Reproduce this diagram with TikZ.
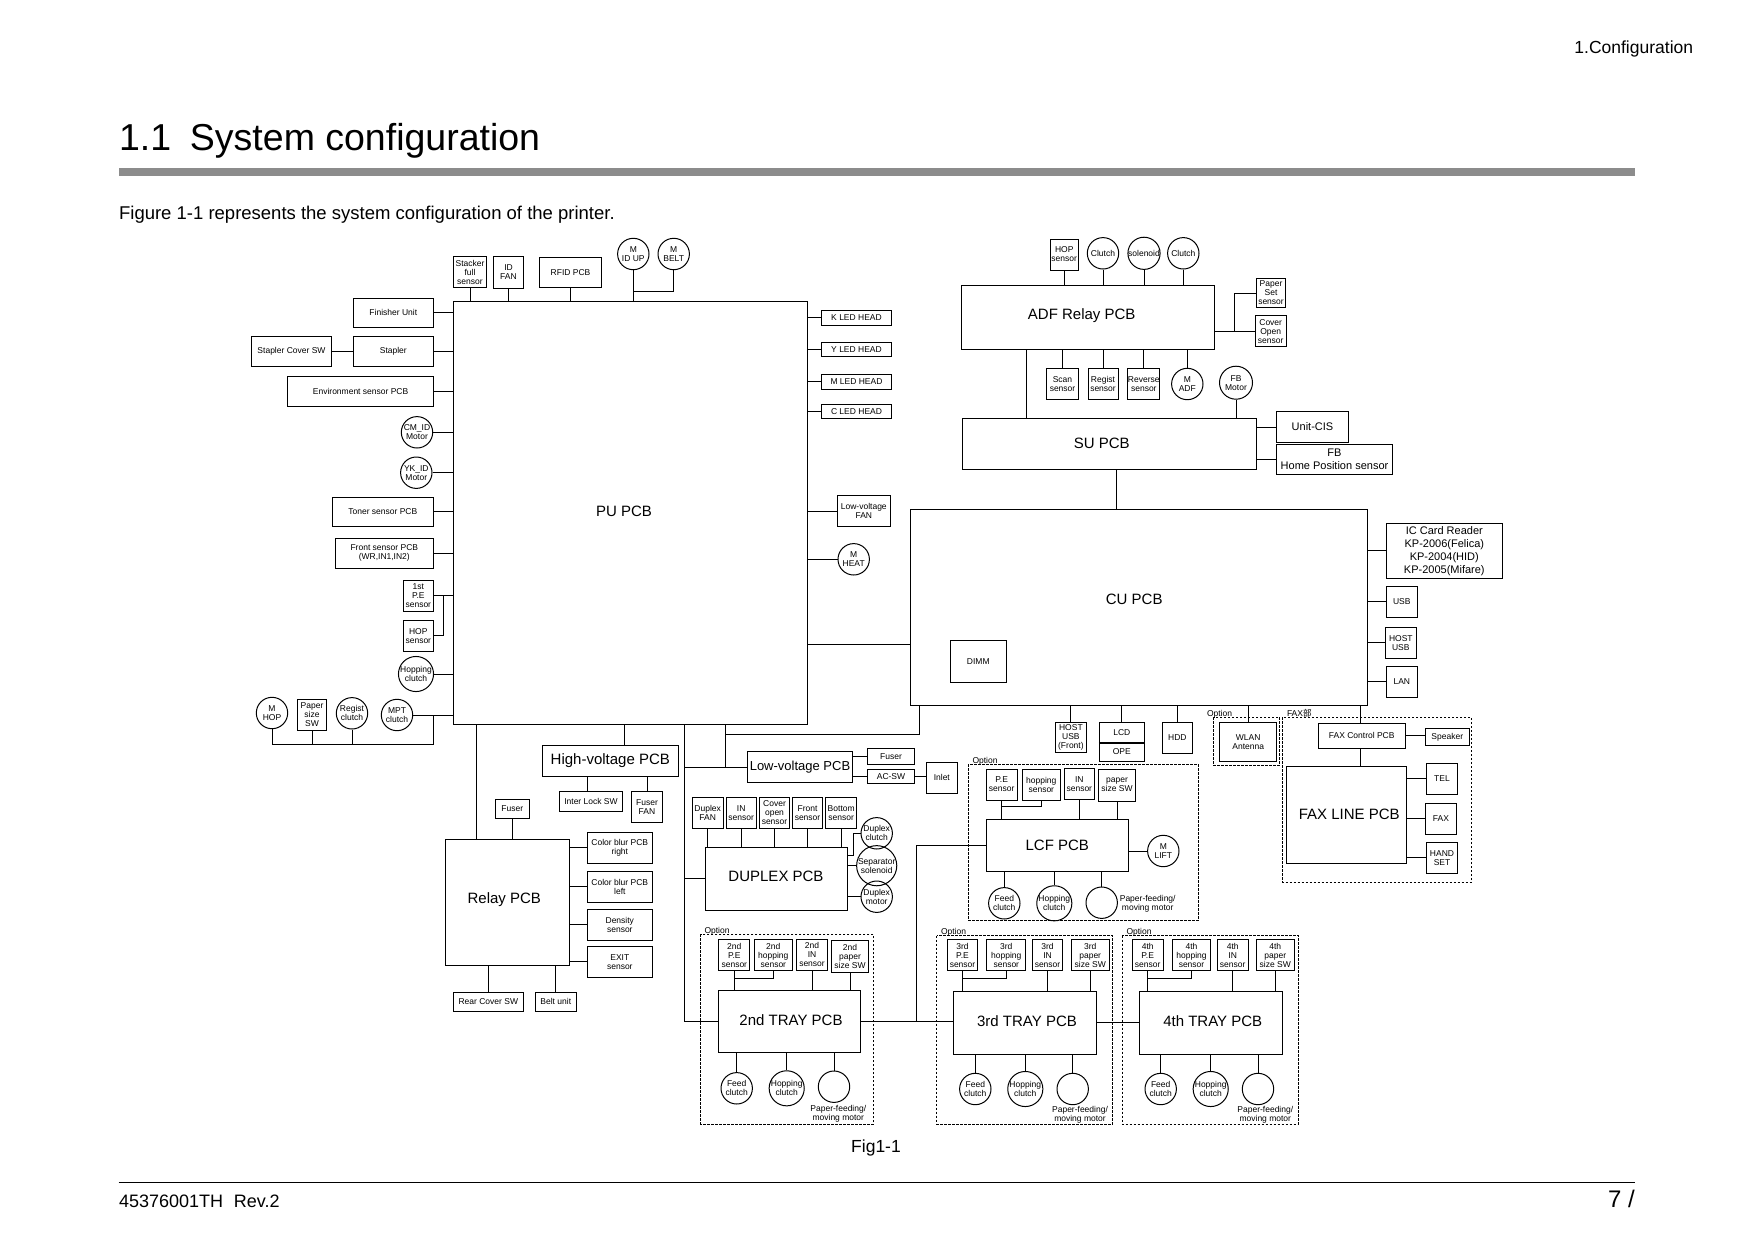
\documentclass[tikz,border=0pt]{standalone}
\usepackage{fontspec}
\setmainfont{Liberation Sans}
\newfontfamily\cjk{Noto Sans CJK JP}
\usetikzlibrary{calc}
\newcommand\fs{\fontsize{8.5}{9}\selectfont}
\newcommand\fm{\fontsize{11}{13}\selectfont}
\newcommand\fl{\fontsize{15}{18}\selectfont}
\begin{document}
\begin{tikzpicture}[x=1pt,y=-1pt,line width=1pt,
 sb/.style={draw,rectangle,inner sep=0pt,align=center,font=\fs},
 cb/.style={draw,circle,inner sep=0pt,align=center,font=\fs,minimum size=31.4pt},
 bb/.style={draw,rectangle,inner sep=0pt,align=center,font=\fl},
 mb/.style={draw,rectangle,inner sep=0pt,align=center,font=\fm},
 bt/.style={font=\fl,inner sep=0pt},
 optbox/.style={draw,dash pattern=on 2.5pt off 1.5pt,line width=0.9pt},
 optlbl/.style={font=\fs,anchor=base west,inner sep=0pt},
 txt/.style={font=\fs,align=center,inner sep=0pt}]
\useasboundingbox (0,0) rectangle (1754,1240);
% ---------- page furniture ----------
\node[anchor=base east,font=\fontsize{17.5}{20}\selectfont,inner sep=0] (hdr) at (1693.6,53.5) {1.Configuration};
\node[anchor=base west,font=\fontsize{37.5}{44}\selectfont,inner sep=0] (title) at (118.6,150.5) {1.1\hspace{0.5em}System configuration};
\fill[black!45] (118.6,167.8) rectangle (1635.4,175.6);
\node[anchor=base west,font=\fontsize{18.5}{22}\selectfont,inner sep=0] (intro) at (118.6,219) {Figure 1-1 represents the system configuration of the printer.};
\node[anchor=base,font=\fontsize{17.5}{20}\selectfont,inner sep=0] (figcap) at (876,1152.5) {Fig1-1};
\draw[line width=0.8pt] (118.6,1182.4) -- (1635.4,1182.4);
\node[anchor=base west,font=\fontsize{18}{20}\selectfont,inner sep=0] (doc) at (118.6,1207) {45376001TH\hspace{0.6em}Rev.2};
\node[anchor=base east,font=\fontsize{24}{26}\selectfont,inner sep=0] (pg) at (1635.4,1207) {7 /};
% ---------- PU PCB ----------
\node[bb,minimum width=354.4pt,minimum height=423pt] (pu) at (630.5,512.5) {};
\node[bt] (putxt) at (624,511.7) {PU PCB};
% top
\node[sb,minimum width=33.4pt,minimum height=30.6pt] (stk) at (470,272) {Stacker\\full\\sensor};
\node[sb,minimum width=30.4pt,minimum height=32pt] (idfan) at (508.5,272.3) {ID\\FAN};
\node[sb,minimum width=62.4pt,minimum height=30pt] (rfid) at (570.5,272.3) {RFID PCB};
\node[cb] (midup) at (633.3,254) {M\\ID UP};
\node[cb] (mbelt) at (673.7,254) {M\\BELT};
\coordinate (jbelt) at (0,291.3);
\foreach \n in {stk,idfan,rfid,midup} \draw (\n.south) -- (\n.south |- pu.north);
\draw (mbelt.south) |- (midup.south |- jbelt);
% left
\node[sb,minimum width=80pt,minimum height=29pt] (fin) at (393.3,312.8) {Finisher Unit};
\node[sb,minimum width=80pt,minimum height=30pt] (stapler) at (393.3,351.3) {Stapler};
\node[sb,minimum width=80.4pt,minimum height=30pt] (stcov) at (291.5,351.3) {Stapler Cover SW};
\node[sb,minimum width=145.3pt,minimum height=30pt] (env) at (360.6,391.3) {Environment sensor PCB};
\node[cb] (cmid) at (417,432.3) {CM\_ID\\Motor};
\node[cb] (ykid) at (416.3,472.7) {YK\_ID\\Motor};
\node[sb,minimum width=101pt,minimum height=29pt] (toner) at (382.8,511.8) {Toner sensor PCB};
\node[sb,minimum width=98pt,minimum height=30pt] (front) at (384.3,553.3) {Front sensor PCB\\(WR,IN1,IN2)};
\node[sb,minimum width=30pt,minimum height=31pt] (pe1) at (418.3,595.8) {1st\\P.E\\sensor};
\node[sb,minimum width=30pt,minimum height=31.3pt] (hops) at (418.3,635.7) {HOP\\sensor};
\node[cb] (hopcl) at (416,674) {Hopping\\clutch};
\node[cb] (mpt) at (397,715) {MPT\\clutch};
\foreach \n in {fin,stapler,env,cmid,ykid,toner,front,pe1,hopcl,mpt} \draw (\n.east) -- (\n.east -| pu.west);
\draw (stcov) -- (stapler);
\coordinate (jh) at (443.3,0);
\draw (hops.east) -| (jh |- pe1.east);
\node[cb] (mhop) at (272,713) {M\\HOP};
\node[sb,minimum width=29.4pt,minimum height=31.4pt] (psw) at (312,715) {Paper\\size\\SW};
\node[cb] (regcl) at (352,713.3) {Regist\\clutch};
\coordinate (jb) at (433.3,744.3);
\draw (mhop.south) |- (jb) -- (jb |- mpt.east);
\draw (psw.south) -- (psw.south |- jb);
\draw (regcl.south) -- (regcl.south |- jb);
% right
\node[sb,minimum width=69.6pt,minimum height=15pt] (khead) at (856.5,317.8) {K LED HEAD};
\node[sb,minimum width=69.6pt,minimum height=14pt] (yhead) at (856.5,349.3) {Y LED HEAD};
\node[sb,minimum width=69.6pt,minimum height=15pt] (mhead) at (856.5,381.8) {M LED HEAD};
\node[sb,minimum width=69.6pt,minimum height=14pt] (chead) at (856.5,411.7) {C LED HEAD};
\node[sb,minimum width=53pt,minimum height=31.3pt] (lvfan) at (863.8,511.3) {Low-voltage\\FAN};
\node[cb] (mheat) at (853.7,559.3) {M\\HEAT};
\foreach \n in {khead,yhead,mhead,chead,lvfan,mheat} \draw (\n.west -| pu.east) -- (\n.west);
% ---------- below PU ----------
\node[bb,minimum width=124pt,minimum height=126.3pt] (relay) at (507.3,902.2) {};
\node[bt] (relaytxt) at (504.3,900) {Relay PCB};
\coordinate (x1) at (476.7,0);
\draw (x1 |- pu.south) -- (x1 |- relay.north);
\node[bb,minimum width=136pt,minimum height=31pt] (hv) at (610.3,760.8) {High-voltage PCB};
\coordinate (x2) at (624.3,0);
\draw (x2 |- pu.south) -- (x2 |- hv.north);
\node[sb,minimum width=63.4pt,minimum height=20pt] (ilsw) at (591,801.3) {Inter Lock SW};
\node[sb,minimum width=31.4pt,minimum height=31pt] (ffan) at (647,806.8) {Fuser\\FAN};
\coordinate (x3) at (587.7,0);
\draw (x3 |- hv.south) -- (x3 |- ilsw.north);
\draw (ffan.north |- hv.south) -- (ffan.north);
\node[sb,minimum width=34pt,minimum height=19pt] (fuser1) at (512.3,808.8) {Fuser};
\draw (fuser1.south) -- (fuser1.south |- relay.north);
\node[sb,minimum width=65pt,minimum height=31pt] (cbr) at (619.8,847.8) {Color blur PCB\\right};
\node[sb,minimum width=65pt,minimum height=31pt] (cbl) at (619.8,886.8) {Color blur PCB\\left};
\node[sb,minimum width=65pt,minimum height=31pt] (dens) at (619.8,924.8) {Density\\sensor};
\node[sb,minimum width=65pt,minimum height=31pt] (exit) at (619.8,961.8) {EXIT\\sensor};
\foreach \n in {cbr,cbl,dens,exit} \draw (\n.west -| relay.east) -- (\n.west);
\node[sb,minimum width=70pt,minimum height=19pt] (rcsw) at (488.3,1001.8) {Rear Cover SW};
\node[sb,minimum width=41pt,minimum height=19pt] (belt) at (555.8,1001.8) {Belt unit};
\draw (rcsw.north |- relay.south) -- (rcsw.north);
\draw (belt.north |- relay.south) -- (belt.north);
% ---------- Low-voltage ----------
\node[bb,font=\fontsize{13}{15}\selectfont,minimum width=104.6pt,minimum height=31.3pt] (lv) at (800,767.3) {Low-voltage PCB};
\node[sb,minimum width=46.6pt,minimum height=15.6pt] (fuser2) at (891,756.5) {Fuser};
\node[sb,minimum width=46.6pt,minimum height=13.6pt] (acsw) at (891,776.5) {AC-SW};
\node[sb,minimum width=31pt,minimum height=30.7pt] (inlet) at (941.8,777.7) {Inlet};
\draw (lv.east |- fuser2.west) -- (fuser2.west);
\draw (lv.east |- acsw.west) -- (acsw.west);
\draw (acsw.east) -- (acsw.east -| inlet.west);
% ---------- Duplex ----------
\node[bb,minimum width=142pt,minimum height=63pt] (duplex) at (776.7,878.8) {};
\node[bt] (duptxt) at (776,876) {DUPLEX PCB};
\node[sb,minimum width=30.7pt,minimum height=31pt] (dfan) at (707.7,812.8) {Duplex\\FAN};
\node[sb,minimum width=30.3pt,minimum height=31pt] (dins) at (741.2,812.8) {IN\\sensor};
\node[sb,minimum width=30.4pt,minimum height=31pt] (dcov) at (774.5,812.8) {Cover\\open\\sensor};
\node[sb,minimum width=30.4pt,minimum height=31pt] (dfront) at (807.5,812.8) {Front\\sensor};
\node[sb,minimum width=31pt,minimum height=31pt] (dbot) at (841.2,812.8) {Bottom\\sensor};
\foreach \n in {dfan,dins,dcov,dfront,dbot} \draw (\n.south) -- (\n.south |- duplex.north);
\node[cb] (dcl) at (876.7,833.3) {Duplex\\clutch};
\node[cb] (ssol) at (876.7,865.7) {Separator\\solenoid};
\node[cb] (dmot) at (876.7,896.7) {Duplex\\motor};
\coordinate (jd) at (853.3,855);
\draw (duplex.east |- jd) -- (jd) |- (dcl.west);
\draw (ssol.west -| duplex.east) -- (ssol.west);
\draw (dmot.west -| duplex.east) -- (dmot.west);
% ---------- 2nd tray ----------
\draw[optbox] (700.7,934.3) rectangle (873.3,1124);
\node[optlbl] (o2) at (704,933.3) {Option};
\node[sb,minimum width=30.7pt,minimum height=31pt] (t2pe) at (734.3,955.2) {2nd\\P.E\\sensor};
\node[sb,minimum width=38pt,minimum height=31pt] (t2hop) at (773.3,955.2) {2nd\\hopping\\sensor};
\node[sb,minimum width=31.4pt,minimum height=31pt] (t2in) at (812,954.5) {2nd\\IN\\sensor};
\node[sb,minimum width=36.6pt,minimum height=32.3pt] (t2psw) at (850,956.2) {2nd\\paper\\size SW};
\node[bb,minimum width=142pt,minimum height=62pt] (t2) at (789.3,1021.7) {};
\node[bt] (t2txt) at (791,1020) {2nd TRAY PCB};
\coordinate (j2) at (0,978.3);
\foreach \n in {t2pe,t2in,t2psw} \draw (\n.south) -- (\n.south |- t2.north);
\draw (t2hop.south) |- (t2pe.south |- j2);
\node[cb] (t2fc) at (736.7,1088.3) {Feed\\clutch};
\node[cb] (t2hc) at (786.7,1088.3) {Hopping\\clutch};
\node[cb] (t2m) at (834,1086.7) {};
\foreach \n in {t2fc,t2hc,t2m} \draw (\n.north |- t2.south) -- (\n.north);
\node[txt] (t2mt) at (838.3,1113.5) {Paper-feeding/\\moving motor};
% ---------- trunk lines ----------
\coordinate (jx) at (684.3,0);
\draw (jx |- pu.south) |- (t2.west);
\draw (jx |- lv.west) -- (lv.west);
\draw (jx |- duplex.west) -- (duplex.west);
% ---------- LCF ----------
\draw[optbox] (968.3,764) rectangle (1198.3,920.3);
\node[optlbl] (ol) at (972,763) {Option};
\node[sb,minimum width=30.7pt,minimum height=31pt] (lpe) at (1001.7,784.5) {P.E\\sensor};
\node[sb,minimum width=38pt,minimum height=31pt] (lhop) at (1041.3,784.8) {hopping\\sensor};
\node[sb,minimum width=30pt,minimum height=30.6pt] (lin) at (1079.3,784) {IN\\sensor};
\node[sb,minimum width=36.6pt,minimum height=31.7pt] (lpsw) at (1117,785.2) {paper\\size SW};
\node[bb,minimum width=142pt,minimum height=51.7pt] (lcf) at (1057.3,845.2) {LCF PCB};
\coordinate (jl2) at (0,806.7);
\foreach \n in {lpe,lin,lpsw} \draw (\n.south) -- (\n.south |- lcf.north);
\draw (lhop.south) |- (lpe.south |- jl2);
\node[cb] (mlift) at (1163.3,851) {M\\LIFT};
\draw (mlift.west -| lcf.east) -- (mlift.west);
\node[cb] (lfc) at (1004.3,903.3) {Feed\\clutch};
\node[cb] (lhc) at (1054.3,903.3) {Hopping\\clutch};
\node[cb] (lm) at (1101.7,902.7) {};
\foreach \n in {lfc,lhc,lm} \draw (\n.north |- lcf.south) -- (\n.north);
\node[txt] (lmt) at (1147.7,903.8) {Paper-feeding/\\moving motor};
% ---------- 3rd tray ----------
\draw[optbox] (936.7,935.7) rectangle (1112.7,1124.3);
\node[optlbl] (o3) at (940.5,934.7) {Option};
\node[sb,minimum width=30.4pt,minimum height=31pt] (t3pe) at (962.5,955.3) {3rd\\P.E\\sensor};
\node[sb,minimum width=38.7pt,minimum height=31pt] (t3hop) at (1006.3,955.3) {3rd\\hopping\\sensor};
\node[sb,minimum width=30.4pt,minimum height=31pt] (t3in) at (1047.5,955.3) {3rd\\IN\\sensor};
\node[sb,minimum width=38.3pt,minimum height=31pt] (t3psw) at (1090.2,955.3) {3rd\\paper\\size SW};
\node[bb,minimum width=142.7pt,minimum height=63pt] (t3) at (1025.3,1022.8) {};
\node[bt] (t3txt) at (1027,1021) {3rd TRAY PCB};
\foreach \n in {t3pe,t3in,t3psw} \draw (\n.south) -- (\n.south |- t3.north);
\draw (t3hop.south) |- (t3pe.south |- j2);
\node[cb] (t3fc) at (975.3,1089) {Feed\\clutch};
\node[cb] (t3hc) at (1025.3,1089) {Hopping\\clutch};
\node[cb] (t3m) at (1072.7,1089) {};
\foreach \n in {t3fc,t3hc,t3m} \draw (\n.north |- t3.south) -- (\n.north);
\node[txt] (t3mt) at (1080,1114.5) {Paper-feeding/\\moving motor};
\draw (t2.east) -- (t2.east -| t3.west);
\coordinate (jl) at (916.7,0);
\draw (jl |- t2.east) |- (lcf.west);
% ---------- 4th tray ----------
\draw[optbox] (1122.3,935.7) rectangle (1298.3,1124.3);
\node[optlbl] (o4) at (1126,934.7) {Option};
\node[sb,minimum width=30.7pt,minimum height=31pt] (t4pe) at (1147.7,955.3) {4th\\P.E\\sensor};
\node[sb,minimum width=38.4pt,minimum height=31pt] (t4hop) at (1191.5,955.3) {4th\\hopping\\sensor};
\node[sb,minimum width=30.7pt,minimum height=31pt] (t4in) at (1232.7,955.3) {4th\\IN\\sensor};
\node[sb,minimum width=38pt,minimum height=31pt] (t4psw) at (1275.3,955.3) {4th\\paper\\size SW};
\node[bb,minimum width=143pt,minimum height=63pt] (t4) at (1210.8,1022.8) {};
\node[bt] (t4txt) at (1212.7,1021) {4th TRAY PCB};
\foreach \n in {t4pe,t4in,t4psw} \draw (\n.south) -- (\n.south |- t4.north);
\draw (t4hop.south) |- (t4pe.south |- j2);
\node[cb] (t4fc) at (1160.7,1089) {Feed\\clutch};
\node[cb] (t4hc) at (1210.7,1089) {Hopping\\clutch};
\node[cb] (t4m) at (1258,1089) {};
\foreach \n in {t4fc,t4hc,t4m} \draw (\n.north |- t4.south) -- (\n.north);
\node[txt] (t4mt) at (1265.3,1114.5) {Paper-feeding/\\moving motor};
\draw (t3.east) -- (t3.east -| t4.west);
% ---------- ADF / SU ----------
\node[bb,minimum width=253.3pt,minimum height=64.3pt] (adf) at (1088.3,317.2) {};
\node[bt] (adftxt) at (1081.7,316) {ADF Relay PCB};
\node[sb,minimum width=28.3pt,minimum height=31pt] (adfhop) at (1064.2,254.5) {HOP\\sensor};
\node[cb] (adfc1) at (1103,253.3) {Clutch};
\node[cb] (adfsol) at (1144,253.3) {solenoid};
\node[cb] (adfc2) at (1183.3,253.3) {Clutch};
\foreach \n in {adfhop,adfc1,adfsol,adfc2} \draw (\n.south) -- (\n.south |- adf.north);
\node[sb,minimum width=29.7pt,minimum height=29pt] (pset) at (1271,293) {Paper\\Set\\sensor};
\node[sb,minimum width=30.7pt,minimum height=30.7pt] (cover) at (1270.7,331.3) {Cover\\Open\\sensor};
\coordinate (ja) at (1234.3,0);
\draw (adf.east |- cover.west) -- (cover.west);
\draw (ja |- cover.west) |- (pset.west);
\node[sb,minimum width=31.6pt,minimum height=30.7pt] (scan) at (1062.5,383.7) {Scan\\sensor};
\node[sb,minimum width=30pt,minimum height=30.7pt] (regs) at (1103,383.7) {Regist\\sensor};
\node[sb,minimum width=31pt,minimum height=30.7pt] (revs) at (1143.8,383.7) {Reverse\\sensor};
\node[cb] (madf) at (1187.3,384) {M\\ADF};
\foreach \n in {scan,regs,revs,madf} \draw (\n.north |- adf.south) -- (\n.north);
\node[bb,minimum width=294.3pt,minimum height=51pt] (su) at (1109.8,443.8) {};
\node[bt] (sutxt) at (1101.7,443.3) {SU PCB};
\node[cb,minimum size=33pt] (fbm) at (1236,382.7) {FB\\Motor};
\draw (fbm.south) -- (fbm.south |- su.north);
\coordinate (xas) at (1026,0);
\draw (xas |- adf.south) -- (xas |- su.north);
\node[mb,minimum width=72.4pt,minimum height=30.6pt] (ucis) at (1312.5,427) {Unit-CIS};
\node[mb,minimum width=116.4pt,minimum height=30.4pt] (fbhome) at (1334.5,459.5) {FB\\Home Position sensor};
\draw (su.east |- ucis.west) -- (ucis.west);
\draw (su.east |- fbhome.west) -- (fbhome.west);
% ---------- CU ----------
\node[bb,minimum width=457.3pt,minimum height=196pt] (cu) at (1139,607.3) {};
\node[bt] (cutxt) at (1134.2,599.3) {CU PCB};
\coordinate (xsc) at (1116.7,0);
\draw (xsc |- su.south) -- (xsc |- cu.north);
\node[sb,minimum width=56.3pt,minimum height=42pt] (dimm) at (978.3,661.3) {DIMM};
\node[mb,minimum width=116pt,minimum height=55pt] (icc) at (1444.3,550.8) {IC Card Reader\\KP-2006(Felica)\\KP-2004(HID)\\KP-2005(Mifare)};
\node[sb,minimum width=31pt,minimum height=31pt] (usb) at (1401.8,601.8) {USB};
\node[sb,minimum width=31pt,minimum height=31pt] (husb) at (1400.8,642.8) {HOST\\USB};
\node[sb,minimum width=31pt,minimum height=31pt] (lan) at (1401.8,681.8) {LAN};
\foreach \n in {icc,usb,husb,lan} \draw (\n.west -| cu.east) -- (\n.west);
\coordinate (ypc) at (0,644.3);
\draw (pu.east |- ypc) -- (cu.west |- ypc);
\coordinate (jc) at (919.3,734.3);
\coordinate (jv) at (725.3,734.3);
\draw (jc |- cu.south) -- (jc) -- (jv);
\draw (jv |- pu.south) -- (jv |- lv.west);
\node[sb,minimum width=31pt,minimum height=30pt] (hfront) at (1070.9,737.3) {HOST\\USB\\(Front)};
\node[sb,minimum width=44.7pt,minimum height=19.9pt] (lcd) at (1121.8,732.3) {LCD};
\node[sb,minimum width=44.7pt,minimum height=18.8pt] (ope) at (1121.8,751.6) {OPE};
\draw[line width=2.2pt] (lcd.south west) -- (lcd.south east);
\node[sb,minimum width=29.8pt,minimum height=31pt] (hdd) at (1177.4,737.8) {HDD};
\foreach \n in {hfront,lcd,hdd} \draw (\n.north |- cu.south) -- (\n.north);
\draw[optbox] (1213.8,717.3) rectangle (1279.6,765.7);
\node[optlbl] (ow) at (1206.5,716) {Option};
\node[sb,minimum width=56.6pt,minimum height=39pt] (wlan) at (1248.2,741.8) {WLAN\\Antenna};
\draw (wlan.north |- cu.south) -- (wlan.north);
% ---------- FAX ----------
\draw[optbox] (1282.5,717.3) rectangle (1471.3,882.3);
\node[optlbl] (ofax) at (1286.5,716) {FAX{\cjk 部}};
\node[sb,minimum width=86.8pt,minimum height=25pt] (faxc) at (1361.7,735.8) {FAX Control PCB};
\node[sb,minimum width=44pt,minimum height=17.4pt] (spk) at (1447.3,737) {Speaker};
\draw (faxc.east) -- (faxc.east -| spk.west);
\node[bb,minimum width=120pt,minimum height=96.7pt] (faxline) at (1346.3,814.7) {};
\node[bt] (faxtxt) at (1349.3,814) {FAX LINE PCB};
\coordinate (xf) at (1360.3,0);
\draw (xf |- cu.south) -- (xf |- faxc.north);
\draw (xf |- faxc.south) -- (xf |- faxline.north);
\node[sb,minimum width=31.4pt,minimum height=31pt] (tel) at (1442,778.8) {TEL};
\node[sb,minimum width=31.4pt,minimum height=31pt] (faxp) at (1441,818.8) {FAX};
\node[sb,minimum width=31.4pt,minimum height=31pt] (hset) at (1442,857.8) {HAND\\SET};
\foreach \n in {tel,faxp,hset} \draw (\n.west -| faxline.east) -- (\n.west);
\end{tikzpicture}
\end{document}
